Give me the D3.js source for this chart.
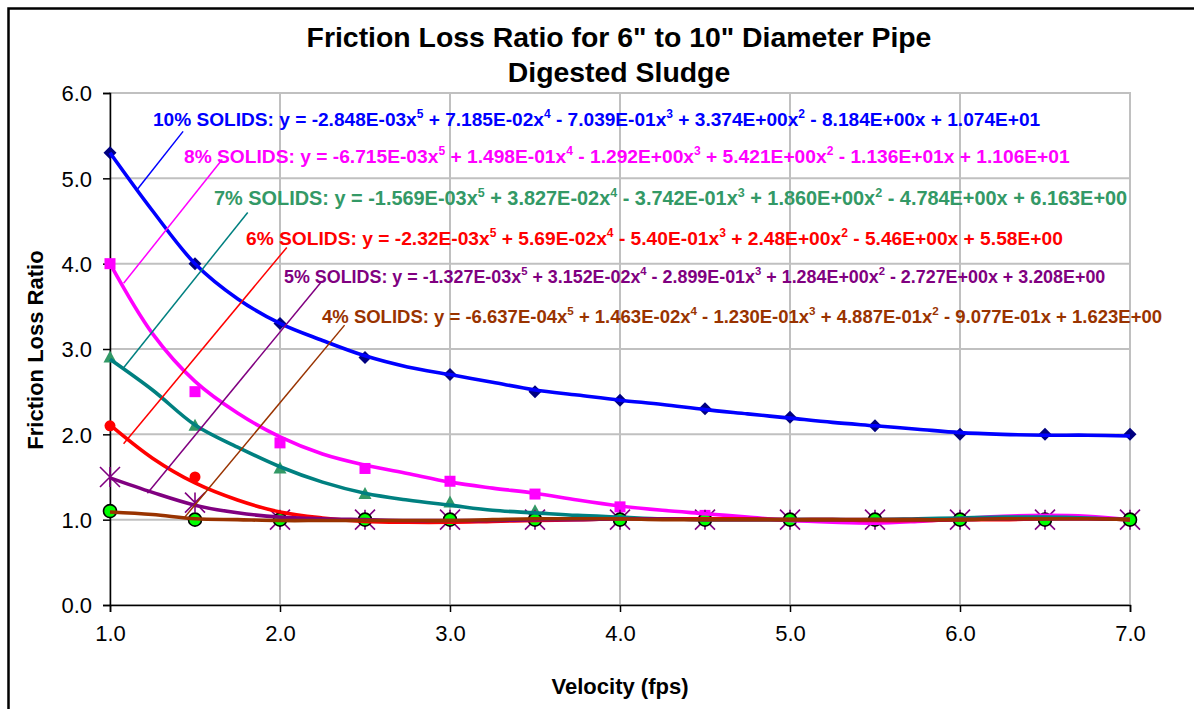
<!DOCTYPE html>
<html><head><meta charset="utf-8">
<script src="https://cdn.jsdelivr.net/npm/d3@7"></script>
<style>
body{margin:0;background:#fff;}
svg text{font-family:"Liberation Sans",Arial,Helvetica,sans-serif;}
</style>
</head><body>
<svg id="chart" width="1194" height="709"></svg>
<script>
// ---------------- data ----------------
const velocity = [1.0, 1.5, 2.0, 2.5, 3.0, 3.5, 4.0, 4.5, 5.0, 5.5, 6.0, 6.5, 7.0];
const solids10 = [5.3, 4.0, 3.3, 2.9, 2.7, 2.5, 2.4, 2.3, 2.2, 2.1, 2.0, 2.0, 2.0];
const solids8  = [4.0, 2.5, 1.9, 1.6, 1.45, 1.3, 1.15, 1.05, 1.0, 1.0, 1.0, 1.0, 1.0];
const solids7  = [2.9, 2.1, 1.6, 1.3, 1.2, 1.1, 1.0, 1.0, 1.0, 1.0, 1.0, 1.0, 1.0];
const solids6  = [2.1, 1.5, 1.0, 1.0, 1.0, 1.0, 1.0, 1.0, 1.0, 1.0, 1.0, 1.0, 1.0];
const solids5  = [1.5, 1.2, 1.0, 1.0, 1.0, 1.0, 1.0, 1.0, 1.0, 1.0, 1.0, 1.0, 1.0];
const solids4  = [1.1, 1.0, 1.0, 1.0, 1.0, 1.0, 1.0, 1.0, 1.0, 1.0, 1.0, 1.0, 1.0];

// polynomial trendlines
const trendX  = [1.0, 1.25, 1.5, 1.75, 2.0, 2.25, 2.5, 2.75, 3.0, 3.25, 3.5, 3.75, 4.0,
                 4.25, 4.5, 4.75, 5.0, 5.25, 5.5, 5.75, 6.0, 6.25, 6.5, 6.75, 7.0];
const trend10 = [5.30, 4.62, 4.00, 3.59, 3.30, 3.10, 2.92, 2.79, 2.70, 2.61, 2.52, 2.46, 2.40,
                 2.35, 2.29, 2.24, 2.19, 2.14, 2.10, 2.06, 2.02, 2.00, 1.99, 1.99, 1.98];
const trend8  = [4.00, 3.18, 2.62, 2.25, 1.97, 1.77, 1.64, 1.54, 1.44, 1.37, 1.31, 1.23, 1.16,
                 1.11, 1.07, 1.03, 0.99, 0.97, 0.96, 0.98, 1.01, 1.04, 1.05, 1.04, 1.00];
const trend7  = [2.88, 2.52, 2.11, 1.85, 1.62, 1.44, 1.31, 1.23, 1.17, 1.11, 1.08, 1.05, 1.03,
                 1.01, 1.00, 1.00, 1.00, 1.00, 1.00, 1.01, 1.02, 1.03, 1.03, 1.02, 1.00];
const trend6  = [2.11, 1.72, 1.43, 1.23, 1.09, 1.02, 0.98, 0.97, 0.97, 0.98, 0.99, 1.00, 1.01,
                 1.01, 1.01, 1.01, 1.00, 1.00, 0.99, 0.99, 1.00, 1.00, 1.01, 1.01, 1.00];
const trend5  = [1.49, 1.32, 1.17, 1.08, 1.03, 1.01, 1.00, 0.99, 0.99, 0.99, 1.00, 1.00, 1.01,
                 1.01, 1.00, 1.00, 1.00, 1.00, 1.00, 1.00, 1.00, 1.01, 1.01, 1.01, 1.00];
const trend4  = [1.09, 1.06, 1.01, 1.00, 0.99, 0.99, 0.99, 0.99, 0.99, 1.00, 1.01, 1.01, 1.01,
                 1.00, 1.00, 1.00, 1.00, 1.00, 1.00, 1.00, 1.00, 1.01, 1.01, 1.01, 1.00];

const seriesNames = ["10% SOLIDS", "8% SOLIDS", "7% SOLIDS", "6% SOLIDS", "5% SOLIDS", "4% SOLIDS"];
const equations = [
  "y = -2.848E-03x^5 + 7.185E-02x^4 - 7.039E-01x^3 + 3.374E+00x^2 - 8.184E+00x + 1.074E+01",
  "y = -6.715E-03x^5 + 1.498E-01x^4 - 1.292E+00x^3 + 5.421E+00x^2 - 1.136E+01x + 1.106E+01",
  "y = -1.569E-03x^5 + 3.827E-02x^4 - 3.742E-01x^3 + 1.860E+00x^2 - 4.784E+00x + 6.163E+00",
  "y = -2.32E-03x^5 + 5.69E-02x^4 - 5.40E-01x^3 + 2.48E+00x^2 - 5.46E+00x + 5.58E+00",
  "y = -1.327E-03x^5 + 3.152E-02x^4 - 2.899E-01x^3 + 1.284E+00x^2 - 2.727E+00x + 3.208E+00",
  "y = -6.637E-04x^5 + 1.463E-02x^4 - 1.230E-01x^3 + 4.887E-01x^2 - 9.077E-01x + 1.623E+00"
];
const xTickValues = [1, 2, 3, 4, 5, 6, 7];
const yTickValues = [0, 1, 2, 3, 4, 5, 6];
const titleLines = ["Friction Loss Ratio for 6\" to 10\" Diameter Pipe", "Digested Sludge"];
const xAxisTitle = "Velocity (fps)";
const yAxisTitle = "Friction Loss Ratio";

// ---------------- styles / layout ----------------
const values = [solids10, solids8, solids7, solids6, solids5, solids4];
const trends = [trend10, trend8, trend7, trend6, trend5, trend4];
const lineColors   = ["#0000FF", "#FF00FF", "#008080", "#FF0000", "#800080", "#993300"];
const markerColors = ["#000080", "#FF00FF", "#339966", "#FF0000", "#800080", "#00FF00"];
const textColors   = ["#0000FF", "#FF00FF", "#339966", "#FF0000", "#800080", "#993300"];
const markerTypes  = ["diamond", "square", "triangle", "circle", "star", "circleOutline"];
// label placement (pixels), label font sizes, leader lines (data coords)
const labelPos = [[153,126],[184,163],[214,205],[246,245],[284,283],[322,323]];
const labelSize = [19.1, 19.2, 19.9, 19.2, 17.9, 18.5];
const leaders = [
  [[1.16,4.87],[1.43,5.55]],
  [[1.08,3.77],[1.66,5.22]],
  [[1.08,2.78],[1.81,4.60]],
  [[1.08,1.89],[2.04,4.19]],
  [[1.22,1.31],[2.24,3.78]],
  [[1.44,1.03],[2.38,3.28]]
];

const svg = d3.select("#chart");
const plot = {left: 110, right: 1130, top: 93, bottom: 605};
const x = d3.scaleLinear().domain([1, 7]).range([plot.left, plot.right]);
const y = d3.scaleLinear().domain([0, 6]).range([plot.bottom, plot.top]);

// outer chart border
svg.append("rect").attr("x", 8.5).attr("y", 8.5).attr("width", 1300).attr("height", 800)
  .attr("fill", "#fff").attr("stroke", "#000").attr("stroke-width", 2.5);

// plot area
svg.append("rect").attr("x", plot.left).attr("y", plot.top)
  .attr("width", plot.right - plot.left).attr("height", plot.bottom - plot.top)
  .attr("fill", "#fff").attr("stroke", "#C0C0C0").attr("stroke-width", 2);

// gridlines
svg.append("g").selectAll("line").data(yTickValues.filter(d => d > 0)).join("line")
  .attr("x1", plot.left).attr("x2", plot.right).attr("y1", d => y(d)).attr("y2", d => y(d))
  .attr("stroke", "#C0C0C0").attr("stroke-width", 2);
svg.append("g").selectAll("line").data(xTickValues.filter(d => d > 1)).join("line")
  .attr("y1", plot.top).attr("y2", plot.bottom).attr("x1", d => x(d)).attr("x2", d => x(d))
  .attr("stroke", "#C0C0C0").attr("stroke-width", 2);

// axes
const fmt = d3.format(".1f");
const xAxis = svg.append("g").attr("transform", `translate(0,${plot.bottom})`)
  .call(d3.axisBottom(x).tickValues(xTickValues).tickFormat(fmt).tickSize(7).tickPadding(12));
const yAxis = svg.append("g").attr("transform", `translate(${plot.left},0)`)
  .call(d3.axisLeft(y).tickValues(yTickValues).tickFormat(fmt).tickSize(7).tickPadding(11));
[xAxis, yAxis].forEach(g => {
  g.select(".domain").attr("stroke", "#000").attr("stroke-width", 1.5);
  g.selectAll(".tick line").attr("stroke", "#000").attr("stroke-width", 1.5);
  g.selectAll(".tick text").attr("font-size", 22).attr("fill", "#000")
    .style("font-family", "'Liberation Sans',Arial,sans-serif");
});
yAxis.selectAll(".tick text").attr("dy", "0.36em");
xAxis.selectAll(".tick text").attr("dy", "0.75em");

// markers
const markerG = svg.append("g");
function drawMarker(g, type, color, cx, cy) {
  if (type === "diamond") {
    g.append("path").attr("d", `M${cx},${cy-6.5}L${cx+6.5},${cy}L${cx},${cy+6.5}L${cx-6.5},${cy}Z`)
      .attr("fill", color);
  } else if (type === "square") {
    g.append("rect").attr("x", cx-5.5).attr("y", cy-5.5).attr("width", 11).attr("height", 11).attr("fill", color);
  } else if (type === "triangle") {
    g.append("path").attr("d", `M${cx},${cy-7}L${cx+6.5},${cy+5}L${cx-6.5},${cy+5}Z`).attr("fill", color);
  } else if (type === "circle") {
    g.append("circle").attr("cx", cx).attr("cy", cy).attr("r", 5.5).attr("fill", color);
  } else if (type === "star") {
    const r = 10;
    g.append("path").attr("d",
      `M${cx-r},${cy-r}L${cx+r},${cy+r}M${cx-r},${cy+r}L${cx+r},${cy-r}M${cx},${cy-r}L${cx},${cy+r}`)
      .attr("stroke", color).attr("stroke-width", 1.6).attr("fill", "none");
  } else if (type === "circleOutline") {
    g.append("circle").attr("cx", cx).attr("cy", cy).attr("r", 6.5).attr("fill", color)
      .attr("stroke", "#000").attr("stroke-width", 1.6);
  }
}
values.forEach((vals, i) => {
  const g = markerG.append("g");
  vals.forEach((v, j) => drawMarker(g, markerTypes[i], markerColors[i], x(velocity[j]), y(v)));
});

// trendlines
const line = d3.line().x(d => x(d[0])).y(d => y(d[1])).curve(d3.curveCatmullRom.alpha(0.5));
trends.forEach((tv, i) => {
  svg.append("path").datum(trendX.map((t, j) => [t, tv[j]]))
    .attr("d", line).attr("fill", "none").attr("stroke", lineColors[i])
    .attr("stroke-width", 3.6).attr("stroke-linejoin", "round");
});

// leader lines
leaders.forEach((l, i) => {
  svg.append("line").attr("x1", x(l[0][0])).attr("y1", y(l[0][1]))
    .attr("x2", x(l[1][0])).attr("y2", y(l[1][1]))
    .attr("stroke", lineColors[i]).attr("stroke-width", 1.5);
});

// equation labels
equations.forEach((eq, i) => {
  const fs = labelSize[i];
  const t = svg.append("text").attr("x", labelPos[i][0]).attr("y", labelPos[i][1])
    .attr("fill", textColors[i]).attr("font-size", fs).attr("font-weight", "bold");
  t.append("tspan").text(seriesNames[i] + ": ");
  const parts = eq.split(/\^(\d)/);
  const shift = fs * 0.42;
  parts.forEach((p, k) => {
    if (k % 2 === 1) {
      t.append("tspan").attr("font-size", fs * 0.63).attr("dy", -shift).text(p);
    } else {
      const s = t.append("tspan").text(p);
      if (k > 0) s.attr("dy", shift);
    }
  });
});

// titles
svg.append("g").selectAll("text").data(titleLines).join("text")
  .attr("x", 619).attr("y", (d, i) => 47 + i * 35).attr("text-anchor", "middle")
  .attr("font-size", 28.4).attr("font-weight", "bold").attr("fill", "#000").text(d => d);
svg.append("text").attr("x", 620).attr("y", 694).attr("text-anchor", "middle")
  .attr("font-size", 22).attr("font-weight", "bold").text(xAxisTitle);
svg.append("text").attr("transform", "translate(43,350) rotate(-90)").attr("text-anchor", "middle")
  .attr("font-size", 22).attr("font-weight", "bold").text(yAxisTitle);
</script>
</body></html>
